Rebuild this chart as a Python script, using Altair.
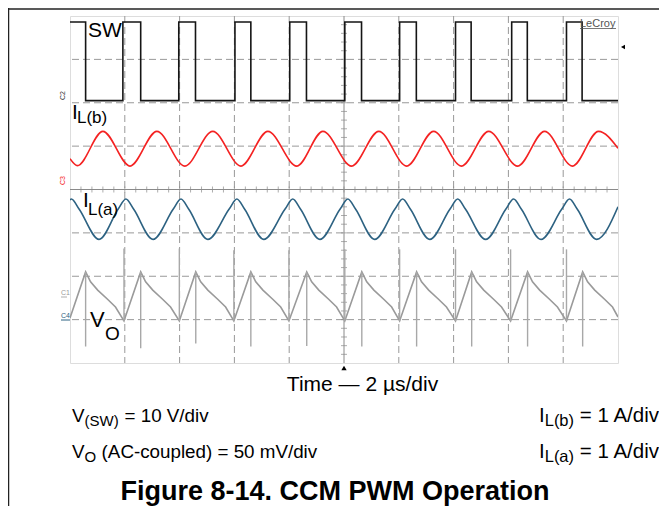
import altair as alt
import pandas as pd

# ---------------- data ----------------
# time in µs (2 µs/div, 10 divisions), amplitude in screen divisions (0 = bottom, 8 = top)

# SW node (black) - edge times and the level after each edge
sw_t = [0.0, 0.57, 1.93, 2.58, 3.97, 4.58, 6.02, 6.60, 8.02, 8.63, 10.03,
        10.64, 12.03, 12.64, 14.07, 14.64, 16.12, 16.69, 18.12, 18.69, 20.0]
sw_v = [7.86, 6.05, 7.86, 6.05, 7.86, 6.05, 7.86, 6.05, 7.86, 6.05, 7.86,
        6.05, 7.86, 6.05, 7.86, 6.05, 7.86, 6.05, 7.86, 6.05, 6.05]

# IL(b) (red) - turning points
ilb_t = [0.0, 0.27, 1.20, 2.19, 3.17, 4.19, 5.21, 6.24, 7.22, 8.28, 9.23,
         10.28, 11.27, 12.29, 13.27, 14.29, 15.28, 16.34, 17.32, 18.34, 19.29, 20.0]
ilb_v = [4.71, 4.55, 5.34, 4.54, 5.34, 4.54, 5.34, 4.54, 5.34, 4.54, 5.34,
         4.54, 5.34, 4.54, 5.34, 4.54, 5.34, 4.54, 5.34, 4.54, 5.34, 4.95]

# IL(a) (blue) - peaks, shoulders beside the (pointed) peaks, and valleys
ila_t = [0.0, 0.05, 0.33, 1.06,
         1.76, 2.04, 2.32, 3.03,
         3.77, 4.05, 4.33, 5.03,
         5.81, 6.09, 6.37, 7.07,
         7.85, 8.13, 8.41, 9.12,
         9.86, 10.14, 10.42, 11.12,
         11.86, 12.14, 12.42, 13.13,
         13.87, 14.15, 14.43, 15.17,
         15.91, 16.19, 16.47, 17.19,
         17.95, 18.23, 18.51, 19.22,
         20.0]
ila_v = [3.76, 3.78, 3.55, 2.85,
         3.55, 3.78, 3.55, 2.85,
         3.55, 3.78, 3.55, 2.85,
         3.55, 3.78, 3.55, 2.85,
         3.55, 3.78, 3.55, 2.85,
         3.55, 3.78, 3.55, 2.85,
         3.55, 3.78, 3.55, 2.85,
         3.55, 3.78, 3.55, 2.85,
         3.55, 3.78, 3.55, 2.85,
         3.55, 3.78, 3.55, 2.85,
         3.60]

# VO ripple (gray) - vertices
vo_t = [0.0, 0.57, 0.75, 1.01, 1.37, 1.66, 1.97,
        2.58, 2.76, 3.02, 3.38, 3.67, 3.99,
        4.59, 4.77, 5.03, 5.39, 5.68, 5.98,
        6.60, 6.78, 7.04, 7.40, 7.69, 7.99,
        8.64, 8.82, 9.08, 9.44, 9.73, 10.03,
        10.65, 10.83, 11.09, 11.45, 11.74, 12.03,
        12.65, 12.83, 13.09, 13.45, 13.74, 14.07,
        14.66, 14.84, 15.10, 15.46, 15.75, 16.08,
        16.70, 16.88, 17.14, 17.50, 17.79, 18.12,
        18.71, 18.89, 19.15, 19.51, 19.80, 20.0]
vo_v = [1.04, 2.10, 1.87, 1.68, 1.47, 1.29, 0.97,
        2.10, 1.87, 1.68, 1.47, 1.29, 0.97,
        2.10, 1.87, 1.68, 1.47, 1.29, 0.97,
        2.10, 1.87, 1.68, 1.47, 1.29, 0.97,
        2.10, 1.87, 1.68, 1.47, 1.29, 0.97,
        2.10, 1.87, 1.68, 1.47, 1.29, 0.97,
        2.10, 1.87, 1.68, 1.47, 1.29, 0.97,
        2.10, 1.87, 1.68, 1.47, 1.29, 0.97,
        2.10, 1.87, 1.68, 1.47, 1.29, 0.97,
        2.10, 1.87, 1.68, 1.47, 1.29, 1.06]

# VO switching spikes
spike_t = [0.57, 1.97, 2.58, 3.99, 4.59, 5.98, 6.60, 7.99, 8.64, 10.03,
           10.65, 12.03, 12.65, 14.07, 14.66, 16.08, 16.70, 18.12, 18.71]
spike_top = [2.10, 2.64, 2.10, 2.64, 2.10, 2.60, 2.10, 2.60, 2.10, 2.62,
             2.10, 2.62, 2.10, 2.62, 2.10, 2.62, 2.10, 2.62, 2.10]
spike_bot = [0.38, 0.97, 0.34, 0.97, 0.45, 0.97, 0.38, 0.97, 0.39, 0.97,
             0.38, 0.97, 0.38, 0.97, 0.38, 0.97, 0.38, 0.97, 0.38]

# screen graticule
grid_t = [2, 4, 6, 8, 12, 14, 16, 18]
grid_v = [1, 2, 3, 5, 6, 7]
center_t = [10]
center_v = [4]

# texts
trace_labels = ["SW", "I", "L(b)", "I", "L(a)", "V", "O"]
channel_tags = ["C2", "C3", "C1", "C4"]
bottom_texts = ["Time \u2014 2 \u00b5s/div", "V", "(SW)", "= 10 V/div",
                "V", "O", "(AC-coupled) = 50 mV/div",
                "I", "L(b)", "= 1 A/div", "I", "L(a)", "= 1 A/div",
                "Figure 8-14. CCM PWM Operation"]

FONT = "Liberation Sans"
W, H = 548, 347

xs = alt.Scale(domain=[0, 20], nice=False, zero=False)
ys = alt.Scale(domain=[0, 8], nice=False, zero=False)
X = alt.X("t:Q", scale=xs, axis=None)
Y = alt.Y("v:Q", scale=ys, axis=None)

# grid
gx = alt.Chart(pd.DataFrame({"t": grid_t})).mark_rule(
    color="#999999", strokeDash=[7, 4], strokeWidth=1).encode(x=X)
gy = alt.Chart(pd.DataFrame({"v": grid_v})).mark_rule(
    color="#999999", strokeDash=[7, 4], strokeWidth=1).encode(y=Y)
cx = alt.Chart(pd.DataFrame({"t": center_t})).mark_rule(
    color="#8a8a8a", strokeWidth=1).encode(x=X)
cy = alt.Chart(pd.DataFrame({"v": center_v})).mark_rule(
    color="#8a8a8a", strokeWidth=1).encode(y=Y)
ticks_h = pd.DataFrame({"t": [i * 0.4 for i in range(1, 50)], "v": [4] * 49})
ticks_v = pd.DataFrame({"t": [10] * 39, "v": [i * 0.2 for i in range(1, 40)]})
th = alt.Chart(ticks_h).mark_tick(orient="vertical", size=6, thickness=1,
                                  color="#8a8a8a").encode(x=X, y=Y)
tv = alt.Chart(ticks_v).mark_tick(orient="horizontal", size=6, thickness=1,
                                  color="#8a8a8a").encode(x=X, y=Y)

# traces
sw = alt.Chart(pd.DataFrame({"t": sw_t, "v": sw_v})).mark_line(
    color="#151515", strokeWidth=1.6, interpolate="step-after", clip=True).encode(x=X, y=Y)
ilb = alt.Chart(pd.DataFrame({"t": ilb_t, "v": ilb_v})).mark_line(
    color="#f42222", strokeWidth=1.6, interpolate="monotone", clip=True).encode(x=X, y=Y)
ila = alt.Chart(pd.DataFrame({"t": ila_t, "v": ila_v})).mark_line(
    color="#2d6282", strokeWidth=1.6, interpolate="monotone", clip=True).encode(x=X, y=Y)
vo = alt.Chart(pd.DataFrame({"t": vo_t, "v": vo_v})).mark_line(
    color="#9a9a9a", strokeWidth=1.6, clip=True).encode(x=X, y=Y)
spk = alt.Chart(pd.DataFrame({"t": spike_t, "v": spike_top, "v2": spike_bot})).mark_rule(
    color="#a8a8a8", strokeWidth=1.4).encode(x=X, y=Y, y2="v2:Q")


def txt(s, x, y, size, color="black", align="left", weight="normal", angle=0):
    return alt.Chart(pd.DataFrame({"s": [s]})).mark_text(
        font=FONT, fontSize=size, color=color, align=align, baseline="alphabetic",
        fontWeight=weight, angle=angle).encode(
        text="s:N", x=alt.value(x), y=alt.value(y))


labels = [
    txt(trace_labels[0], 18, 21, 21),
    txt(trace_labels[1], 2, 103, 21),
    txt(trace_labels[2], 7, 107, 17),
    txt(trace_labels[3], 13, 191, 21),
    txt(trace_labels[4], 18, 199, 17),
    txt(trace_labels[5], 20, 311, 22),
    txt(trace_labels[6], 35, 324, 19),
    txt(channel_tags[0], -5, 84, 7, color="#333", angle=270),
    txt(channel_tags[1], -5, 169, 7, color="#f42222", angle=270),
    txt(channel_tags[2], -9, 279, 7, color="#999"),
    txt(channel_tags[3], -9, 302, 7, color="#2d6282"),
    txt("LeCroy", 510, 11, 11, color="#555"),
]

# bottom annotations (plot-area pixel coordinates)
bt = bottom_texts
bottom = [
    txt(bt[0], 292.5, 375, 21, align="center"),
    txt(bt[1], 2, 406, 18.8),
    txt(bt[2], 14.5, 410, 15),
    txt(bt[3], 54.5, 406, 18.8),
    txt(bt[4], 2, 442, 18.8),
    txt(bt[5], 14.5, 446, 15),
    txt(bt[6], 31.6, 442, 18.8),
    txt(bt[7], 469, 406, 20.5),
    txt(bt[8], 474.7, 410, 16.5),
    txt(bt[9], 589, 406, 20.5, align="right"),
    txt(bt[10], 469, 442, 20.5),
    txt(bt[11], 474.7, 446, 16.5),
    txt(bt[12], 589, 442, 20.5, align="right"),
    txt(bt[13], 265, 484, 27, align="center", weight="bold"),
]

one = pd.DataFrame({"a": [0]})
decor = [
    # LeCroy underline
    alt.Chart(one).mark_rule(color="#555", strokeWidth=0.8).encode(
        x=alt.value(510), x2=alt.value(546), y=alt.value(12.5)),
    # C1 / C4 tag underlines
    alt.Chart(one).mark_rule(color="#999", strokeWidth=0.8).encode(
        x=alt.value(-9), x2=alt.value(-3), y=alt.value(281)),
    alt.Chart(one).mark_rule(color="#2d6282", strokeWidth=1).encode(
        x=alt.value(-9), x2=alt.value(0), y=alt.value(304)),
    # document frame
    alt.Chart(one).mark_rule(color="#222", strokeWidth=1.5).encode(
        x=alt.value(-61.5), y=alt.value(-8), y2=alt.value(492)),
    alt.Chart(one).mark_rule(color="#222", strokeWidth=1.5).encode(
        x=alt.value(-62), x2=alt.value(600), y=alt.value(-7)),
    # trigger markers
    alt.Chart(pd.DataFrame({"t": center_t})).mark_point(
        shape="triangle-up", size=28, filled=True, color="black", opacity=1).encode(
        x=X, y=alt.value(352)),
    alt.Chart(one).mark_point(
        shape="triangle-left", size=22, filled=True, color="black", opacity=1).encode(
        x=alt.value(553), y=alt.value(31)),
]

chart = alt.layer(gx, gy, cx, cy, th, tv, vo, spk, ila, ilb, sw, *labels, *bottom, *decor).properties(
    width=W, height=H,
    padding={"left": 62, "top": 8, "right": 41, "bottom": 143},
    autosize=alt.AutoSizeParams(type="none"),
).configure_view(stroke="#c4c4c4", strokeWidth=1).configure(background="white")

chart.save("out.html", embed_options={"renderer": "svg", "actions": False})
